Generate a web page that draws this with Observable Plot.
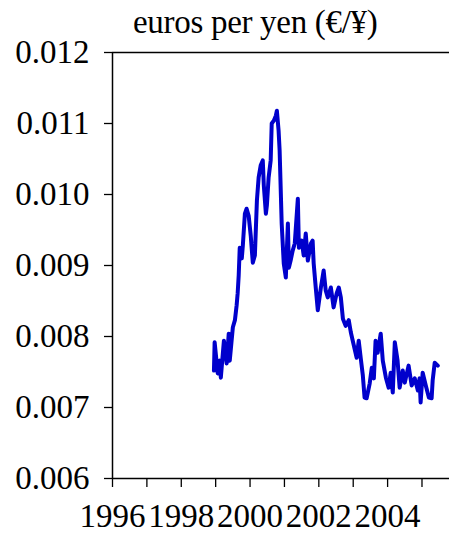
<!DOCTYPE html>
<html>
<head>
<meta charset="utf-8">
<script src="https://cdn.jsdelivr.net/npm/d3@7"></script>
<script src="https://cdn.jsdelivr.net/npm/@observablehq/plot@0.6"></script>
<style>
  html, body { margin: 0; padding: 0; background: white; }
  #title { height: 40px; line-height: 44px; font-size: 33px; padding-left: 133px; white-space: nowrap; letter-spacing: -0.3px;
           font-family: 'Liberation Serif', 'Times New Roman', serif; color: black; overflow: visible; }
</style>
</head>
<body>
<div id="title">euros per yen (€/¥)</div>
<div id="chart"></div>
<script>
const years = [1998.95,1998.97,1999.06,1999.12,1999.15,1999.24,1999.32,1999.38,1999.41,1999.50,
1999.56,1999.61,1999.64,1999.67,1999.70,1999.76,1999.79,1999.85,1999.90,1999.96,
2000.02,2000.08,2000.14,2000.20,2000.25,2000.31,2000.37,2000.40,2000.46,2000.49,
2000.54,2000.60,2000.63,2000.69,2000.75,2000.78,2000.83,2000.86,2000.92,2000.98,
2001.04,2001.10,2001.13,2001.18,2001.24,2001.30,2001.39,2001.42,2001.50,2001.56,
2001.62,2001.68,2001.77,2001.82,2001.85,2001.91,2001.97,2002.06,2002.14,2002.20,
2002.26,2002.35,2002.43,2002.52,2002.58,2002.64,2002.70,2002.78,2002.87,2002.93,
2003.02,2003.10,2003.16,2003.22,2003.28,2003.33,2003.39,2003.48,2003.54,2003.60,
2003.65,2003.71,2003.80,2003.86,2003.95,2004.03,2004.09,2004.15,2004.21,2004.29,
2004.35,2004.44,2004.50,2004.61,2004.70,2004.79,2004.88,2004.93,2004.96,2005.02,
2005.11,2005.20,2005.28,2005.31,2005.37,2005.46];
const values = [0.00752,0.00792,0.00748,0.00766,0.00742,0.00794,0.00762,0.00804,0.00766,0.00813,
0.00823,0.00844,0.00861,0.00886,0.00925,0.00910,0.00928,0.00973,0.00980,0.00970,
0.00942,0.00904,0.00914,0.00992,0.01024,0.01041,0.01048,0.01013,0.00973,0.00985,
0.01024,0.01048,0.01100,0.01104,0.01111,0.01118,0.01090,0.01062,0.00959,0.00903,
0.00883,0.00959,0.00897,0.00907,0.00921,0.00931,0.00994,0.00925,0.00935,0.00914,
0.00945,0.00907,0.00931,0.00935,0.00903,0.00869,0.00837,0.00869,0.00893,0.00865,
0.00855,0.00869,0.00841,0.00861,0.00869,0.00855,0.00825,0.00815,0.00823,0.00806,
0.00787,0.00770,0.00794,0.00769,0.00745,0.00714,0.00713,0.00734,0.00756,0.00741,
0.00794,0.00777,0.00804,0.00766,0.00742,0.00728,0.00749,0.00721,0.00792,0.00766,
0.00728,0.00752,0.00735,0.00759,0.00731,0.00741,0.00724,0.00741,0.00707,0.00749,
0.00731,0.00714,0.00713,0.00738,0.00763,0.00759];
const xTicks = [1996,1997,1998,1999,2000,2001,2002,2003,2004,2005];
const xLabels = ["1996","","1998","","2000","","2002","","2004",""];
const yTicks = [0.006,0.007,0.008,0.009,0.010,0.011,0.012];
const yLabels = ["0.006","0.007","0.008","0.009","0.010","0.011","0.012"];

const data = years.map((y, i) => ({year: y, value: values[i]}));

const chart = Plot.plot({
  width: 449,
  height: 494,
  marginLeft: 112,
  marginRight: 0,
  marginTop: 12,
  marginBottom: 56,
  style: {fontFamily: "'Liberation Serif', 'Times New Roman', serif", fontSize: "33px", color: "black", background: "white", overflow: "visible"},
  x: {domain: [1996, 2005.8]},
  y: {domain: [0.006, 0.012]},
  marks: [
    Plot.axisY({ticks: yTicks, tickFormat: (d, i) => yLabels[i], tickSize: 8, tickPadding: 15, label: null, strokeWidth: 1.3, fontSize: 33}),
    Plot.axisX({ticks: xTicks, tickFormat: (d, i) => xLabels[i], tickSize: 9, tickPadding: 16, label: null, strokeWidth: 1.3, fontSize: 33}),
    Plot.ruleX([1996], {stroke: "black", strokeWidth: 1.5}),
    Plot.ruleY([0.006, 0.012], {stroke: "black", strokeWidth: 1.5}),
    Plot.line(data, {x: "year", y: "value", stroke: "#0000cc", strokeWidth: 4, strokeLinejoin: "round"})
  ]
});
document.getElementById("chart").appendChild(chart);
</script>
</body>
</html>
